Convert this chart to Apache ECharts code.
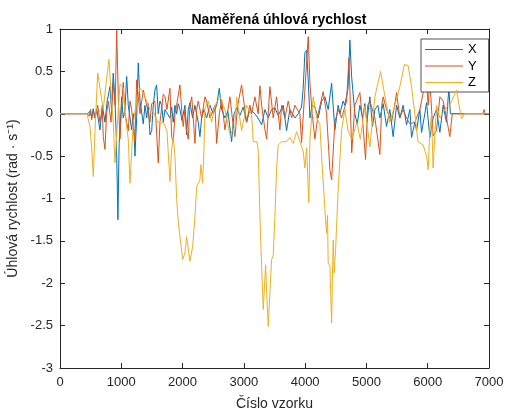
<!DOCTYPE html>
<html>
<head>
<meta charset="utf-8">
<script src="https://cdn.jsdelivr.net/npm/echarts@6/dist/echarts.min.js"></script>
<style>
html,body{margin:0;padding:0;background:#fff;}
#c{width:505px;height:410px;}
</style>
</head>
<body>
<div id="c"></div>
<script>
// ---- data ----
const titleText = 'Naměřená úhlová rychlost';
const xName = 'Číslo vzorku';
const yName = 'Úhlová rychlost (rad · s⁻¹)';
const seriesNames = ['X', 'Y', 'Z'];

const sampX = [0,450,489,517,543,571,600,652,690,734,770,816,840,869,897,920,945,965,979,1006,1032,1060,1088,1114,1142,1169,1196,1223,1251,1277,1305,1332,1359,1386,1414,1440,1468,1496,1522,1549,1577,1603,1631,1659,1685,1713,1745,1794,1822,1848,1876,1903,1929,1957,1990,2039,2066,2093,2120,2164,2202,2256,2283,2311,2349,2392,2447,2500,2556,2599,2638,2691,2740,2800,2840,2882,2936,2990,3045,3099,3126,3180,3230,3290,3344,3398,3453,3507,3560,3588,3643,3697,3751,3779,3833,3887,3942,3968,3996,4023,4050,4078,4115,4159,4213,4270,4322,4376,4432,4485,4539,4567,4620,4648,4700,4730,4757,4811,4850,4893,4940,4974,5007,5056,5100,5138,5187,5219,5273,5328,5382,5436,5492,5545,5599,5655,5709,5736,5790,5818,5872,5900,5953,5981,6035,6088,6143,6198,6252,6306,6345,6370,6400,7000];
const valX = [0,0,0.03,-0.04,0.06,-0.05,0.05,-0.19,0.1,-0.1,0.15,0.32,0.05,0.48,0.15,-0.3,-1.25,-0.35,-0.2,0.2,-0.05,0.05,0.44,0.1,0.12,-0.19,0.0,-0.5,-0.05,0.6,0.15,0.02,-0.12,0.1,-0.05,0.12,-0.25,-0.2,0.1,0.28,0.34,0.0,0.15,0.1,-0.1,0.05,0.05,-0.05,0.08,-0.1,0.1,0.0,0.12,0.05,-0.08,0.1,-0.25,0.05,0.13,-0.05,0.1,-0.1,-0.27,-0.05,0.05,-0.05,0.1,0.0,0.1,0.3,0.05,-0.05,0.03,-0.33,0.0,0.07,-0.02,0.08,-0.1,0.05,0.07,0.0,-0.05,-0.13,0.05,-0.05,0.05,0.07,-0.02,0.02,0.1,-0.2,0.05,0.02,-0.05,0.0,0.08,0.3,0.72,0.75,0.4,-0.05,0.1,0.08,-0.05,0.15,0.2,0.05,0.36,-0.19,0.1,0.0,0.15,0.1,0.3,0.87,0.45,0.0,-0.12,0.1,-0.05,0.12,-0.1,0.2,-0.15,0.05,0.1,-0.05,0.12,-0.15,0.05,-0.27,0.1,-0.05,0.1,-0.13,0.05,-0.28,-0.1,-0.2,0.05,-0.22,0.0,0.13,-0.28,-0.05,0.05,-0.22,0.1,-0.1,0.3,0.0,0,0];

const sampY = [0,450,475,500,517,543,571,615,652,690,706,734,760,788,832,869,900,925,951,979,1006,1032,1060,1088,1114,1142,1169,1223,1251,1305,1359,1414,1468,1496,1549,1603,1631,1685,1713,1745,1794,1822,1848,1876,1903,1957,1990,2011,2039,2066,2093,2120,2150,2202,2230,2256,2311,2365,2392,2447,2474,2528,2556,2600,2638,2691,2740,2773,2820,2854,2900,2963,3017,3045,3099,3126,3180,3234,3262,3290,3344,3372,3425,3479,3534,3588,3616,3670,3724,3779,3833,3914,3942,3996,4050,4078,4115,4159,4213,4294,4350,4404,4432,4485,4539,4594,4676,4715,4760,4811,4893,4940,4986,5020,5056,5138,5219,5250,5273,5328,5410,5460,5492,5545,5599,5655,5709,5790,5872,5926,5970,6007,6035,6088,6143,6198,6252,6306,6361,6400,6900,6920,6940,7000];
const valY = [0,0,-0.03,0.05,-0.07,0.03,-0.05,0.1,-0.1,0.05,-0.27,-0.42,0.0,0.15,-0.1,0.36,0.1,0.99,0.2,-0.3,0.1,0.37,0.0,-0.1,-0.2,0.15,0.05,-0.33,0.4,0.0,0.28,0.1,-0.1,0.12,0.15,-0.58,-0.1,0.23,0.2,0.05,0.3,-0.27,-0.33,0.0,0.1,0.34,0.0,-0.15,0.05,-0.2,-0.3,0.1,0.2,-0.35,0.05,0.15,-0.05,0.2,0.15,-0.05,0.0,0.1,-0.35,0.0,0.17,-0.19,0.05,0.2,-0.1,-0.27,0.1,0.34,0.05,-0.1,0.1,0.0,0.2,0.0,0.33,0.1,-0.19,-0.3,0.32,-0.05,0.2,-0.19,0.1,-0.05,0.15,-0.05,0.1,0.0,-0.34,0.28,0.91,0.36,0.0,-0.3,0.0,0.26,0.0,-0.66,-0.78,-0.1,0.05,-0.05,0.15,0.66,-0.46,0.1,0.25,-0.1,-0.54,0.1,0.15,-0.05,-0.48,0.1,0.2,0.05,-0.1,0.1,0.25,-0.05,0.05,-0.05,-0.12,-0.1,0.05,0.25,0.5,0.1,0.4,-0.26,-0.2,0.2,0.15,-0.05,-0.27,0.0,0,0.05,0,0];

const sampZ = [0,440,489,517,543,571,615,652,706,750,799,832,869,897,951,979,1032,1060,1114,1142,1196,1251,1305,1359,1414,1468,1522,1577,1631,1685,1745,1794,1822,1848,1876,1903,1929,1957,2001,2039,2066,2120,2164,2202,2230,2283,2300,2327,2349,2365,2420,2474,2528,2610,2691,2773,2854,2882,2963,3045,3126,3153,3213,3234,3262,3290,3317,3355,3372,3398,3425,3453,3479,3507,3534,3560,3616,3697,3751,3806,3861,3914,3968,3996,4023,4061,4078,4132,4190,4241,4268,4306,4333,4350,4365,4376,4404,4432,4448,4458,4474,4497,4513,4539,4567,4594,4648,4700,4760,4844,4900,4974,5056,5138,5230,5328,5382,5492,5545,5620,5680,5736,5790,5840,5926,5981,6007,6035,6062,6088,6143,6200,6306,6361,6470,6524,6552,6600,7000];
const valZ = [0,0,-0.15,-0.4,-0.74,-0.2,0.48,0.3,0.05,0.35,0.64,0.25,-0.1,-0.58,0.05,0.35,0.3,0,-0.3,-0.82,-0.1,0.15,0.3,0.25,0.15,0.05,0.03,-0.08,-0.12,-0.1,-0.2,-0.8,-0.42,-0.28,-0.5,-1.0,-1.27,-1.29,-1.72,-1.64,-1.45,-1.74,-1.57,-1.21,-0.86,-0.78,-0.6,-0.82,-0.42,0.07,0.15,-0.1,0.1,0.2,0.05,-0.25,-0.15,0.2,-0.2,0.1,-0.01,-0.33,-0.33,-0.42,-1.21,-1.8,-2.31,-1.78,-2.11,-2.51,-2.11,-1.72,-1.68,-1.21,-0.66,-0.37,-0.33,-0.33,-0.28,-0.35,-0.21,-0.33,-0.44,-0.64,-0.4,-1.05,-0.3,0.2,-0.05,-0.13,-0.5,-0.94,-1.25,-1.41,-1.2,-1.76,-1.8,-2.47,-1.8,-1.49,-1.88,-1.6,-1.33,-0.9,-0.54,-0.2,0.05,-0.2,-0.3,-0.1,-0.3,0.09,-0.39,0.2,0.5,0.1,-0.1,0.17,0.32,0.58,0.57,0.32,0,-0.33,-0.37,-0.5,-0.66,-0.2,0.0,-0.64,0.1,-0.05,0.08,0.1,0.28,0.05,-0.06,0,0];

const xTicks = {min: 0, max: 7000, step: 1000};
const yTicks = {min: -3, max: 1, step: 0.5};

// ---- chart ----
const FONT = '"Liberation Sans", Arial, Helvetica, sans-serif';
const AX = '#262626';
const colors = ['#0072BD', '#D95319', '#EDB120'];
const pair = (s, v) => s.map((x, i) => [x, v[i]]);
const dataSets = [pair(sampX, valX), pair(sampY, valY), pair(sampZ, valZ)];

const chart = echarts.init(document.getElementById('c'), null, {renderer: 'canvas'});

function xAxisDef(pos, showLabels) {
  return {
    type: 'value', position: pos, min: xTicks.min, max: xTicks.max, interval: xTicks.step,
    axisLine: {show: true, onZero: false, lineStyle: {color: AX, width: 1}},
    axisTick: {show: true, inside: true, length: 5, lineStyle: {color: AX, width: 1}},
    axisLabel: {show: showLabels, fontSize: 13, color: AX, fontFamily: FONT, margin: 8,
      formatter: v => String(v)},
    splitLine: {show: false},
    name: showLabels ? xName : '', nameLocation: 'middle', nameGap: 29,
    nameTextStyle: {fontSize: 14, color: AX, fontFamily: FONT}
  };
}
function yAxisDef(pos, showLabels) {
  return {
    type: 'value', position: pos, min: yTicks.min, max: yTicks.max, interval: yTicks.step,
    axisLine: {show: true, onZero: false, lineStyle: {color: AX, width: 1}},
    axisTick: {show: true, inside: true, length: 5, lineStyle: {color: AX, width: 1}},
    axisLabel: {show: showLabels, fontSize: 13, color: AX, fontFamily: FONT, margin: 7,
      formatter: v => String(v)},
    splitLine: {show: false},
    name: showLabels ? yName : '', nameLocation: 'middle', nameGap: 30,
    nameTextStyle: {fontSize: 14, color: AX, fontFamily: FONT}
  };
}

chart.setOption({
  animation: false,
  backgroundColor: '#fff',
  title: {
    text: titleText, left: 274, top: 8, textAlign: 'center',
    textStyle: {fontSize: 14, fontWeight: 'bold', color: '#000', fontFamily: FONT}
  },
  grid: {left: 60, right: 16, top: 29, bottom: 42, containLabel: false, outerBoundsMode: 'none'},
  xAxis: [xAxisDef('bottom', true), xAxisDef('top', false)],
  yAxis: [yAxisDef('left', true), yAxisDef('right', false)],
  legend: {
    data: seriesNames, orient: 'vertical', left: 421, top: 39,
    backgroundColor: '#fff', borderColor: AX, borderWidth: 0.8, borderRadius: 0,
    padding: [4, 12, 3, 4], itemWidth: 38, itemHeight: 1, itemGap: 3.5,
    icon: 'rect',
    textStyle: {fontSize: 13, color: '#000', fontFamily: FONT, lineHeight: 12}
  },
  series: dataSets.map((d, i) => ({
    name: seriesNames[i], type: 'line', data: d, xAxisIndex: 0, yAxisIndex: 0,
    symbol: 'none', showSymbol: false, sampling: null,
    lineStyle: {width: 1, color: colors[i]}, itemStyle: {color: colors[i]},
    z: 2 + i
  }))
});
</script>
</body>
</html>
